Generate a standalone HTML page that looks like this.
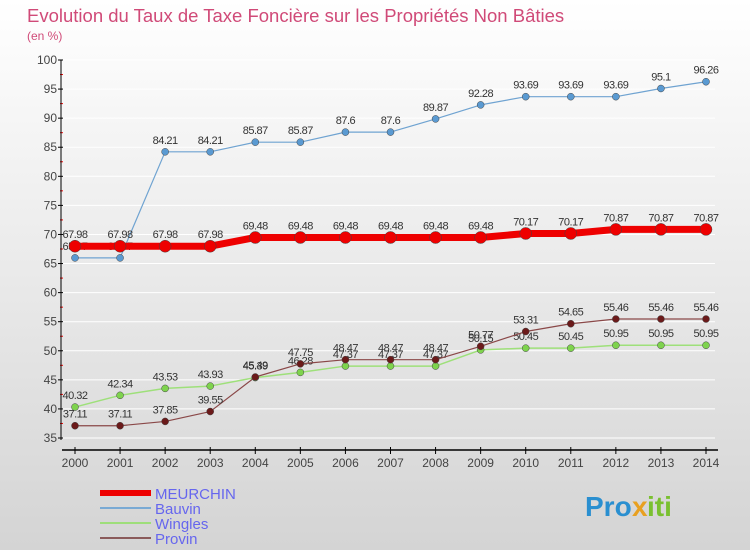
<!DOCTYPE html>
<html><head><meta charset="utf-8"><style>
html,body{margin:0;padding:0}
body{width:750px;height:550px;overflow:hidden;background:linear-gradient(#ffffff,#d4d4d4);font-family:"Liberation Sans",sans-serif}
svg{display:block}
</style></head><body>
<svg width="750" height="550">
<text x="27" y="22" font-size="18.5" fill="#d04a78">Evolution du Taux de Taxe Foncière sur les Propriétés Non Bâties</text>
<text x="27" y="40" font-size="12" fill="#d04a78">(en %)</text>
<g id="grid"></g><g id="axes"></g><g id="series"></g><g id="legend"></g>
</svg>
<script>
const years=[2000,2001,2002,2003,2004,2005,2006,2007,2008,2009,2010,2011,2012,2013,2014];
const meurchin=[67.98,67.98,67.98,67.98,69.48,69.48,69.48,69.48,69.48,69.48,70.17,70.17,70.87,70.87,70.87];
const bauvin=[65.97,65.97,84.21,84.21,85.87,85.87,87.6,87.6,89.87,92.28,93.69,93.69,93.69,95.1,96.26];
const wingles=[40.32,42.34,43.53,43.93,45.39,46.28,47.37,47.37,47.37,50.15,50.45,50.45,50.95,50.95,50.95];
const provin=[37.11,37.11,37.85,39.55,45.49,47.75,48.47,48.47,48.47,50.77,53.31,54.65,55.46,55.46,55.46];
const yTicks=[35,40,45,50,55,60,65,70,75,80,85,90,95,100];
const NS="http://www.w3.org/2000/svg";
const x=i=>75+i*(706-75)/(years.length-1);
const y=v=>438-(v-35)*(378/65);
function mk(tag,attrs,parent,txt){const e=document.createElementNS(NS,tag);for(const k in attrs)e.setAttribute(k,attrs[k]);if(txt!==undefined)e.textContent=txt;document.getElementById(parent).appendChild(e);return e;}
yTicks.forEach(t=>{
 const g=mk('line',{x1:62,x2:715,y1:y(t),y2:y(t),stroke:'#ffffff','stroke-width':1},'grid');
 
 
 const tk=mk('line',{x1:58,x2:63,y1:y(t),y2:y(t),stroke:'#000'},'axes');
 
 
 const l=mk('text',{x:57,y:y(t)+4,'text-anchor':'end','font-size':12,fill:'#444'},'axes',String(t));
 
 
 if(t<100){const m=mk('line',{x1:60,x2:63,y1:y(t+2.5),y2:y(t+2.5),stroke:'#e00'},'axes');
 
 }
});
const ya=mk('line',{x1:61,x2:61,y1:y(100),y2:y(35)+2,stroke:'#000'},'axes');


const xa=mk('line',{x1:62,x2:718,y1:450,y2:450,stroke:'#000','stroke-width':1.5},'axes');


years.forEach((yr,i)=>{
 const tk=mk('line',{x1:x(i),x2:x(i),y1:447,y2:454,stroke:'#000'},'axes');
 
 
 const l=mk('text',{x:x(i),y:467,'text-anchor':'middle','font-size':12,fill:'#444'},'axes',String(yr));
 
 
});
function series(name,data,color,w,r,dot){
 const pts=data.map((v,i)=>x(i)+','+y(v)).join(' ');
 const pl=mk('polyline',{points:pts,fill:'none',stroke:color,'stroke-width':w,'stroke-linejoin':'round'},'series');
 
 
 data.forEach((v,i)=>{
  const c=mk('circle',{cx:x(i),cy:y(v),r:r,fill:dot,stroke:'#444','stroke-width':0.5},'series');
  
  
  const t=mk('text',{x:x(i),y:y(v)-8,'text-anchor':'middle','font-size':11,fill:'#333','letter-spacing':'-0.5'},'series',String(v));
  
  
 });
}
series('bauvin',bauvin,'#6fa3d1',1.2,3.5,'#5a9ad2');
series('wingles',wingles,'#9ee07a',1.5,3.5,'#7ed34d');
series('provin',provin,'#8a4848',1.2,3.5,'#6b1a1a');
series('meurchin',meurchin,'#ee0000',7,6,'#ee0000');
const leg=[['MEURCHIN','#ee0000',6],['Bauvin','#7aaad4',2],['Wingles','#9ede7a',2],['Provin','#8a5a5a',2]];
leg.forEach((e,i)=>{
 const yy=493+i*15;
 const l=mk('line',{x1:100,x2:151,y1:yy,y2:yy,stroke:e[1],'stroke-width':e[2]},'legend');
 
 
 const t=mk('text',{x:155,y:yy+6,'font-size':15,fill:'#6666ee'},'legend',e[0]);
 
 
});
const logo=mk('text',{x:585,y:516,'font-size':28,'font-weight':'bold',fill:'#2a8fd0'},'legend','Pro');


const lx=mk('text',{x:632,y:516,'font-size':28,'font-weight':'bold',fill:'#e8a020'},'legend','x');


const li=mk('text',{x:647,y:516,'font-size':28,'font-weight':'bold',fill:'#7ac030'},'legend','iti');


</script>
</body></html>
